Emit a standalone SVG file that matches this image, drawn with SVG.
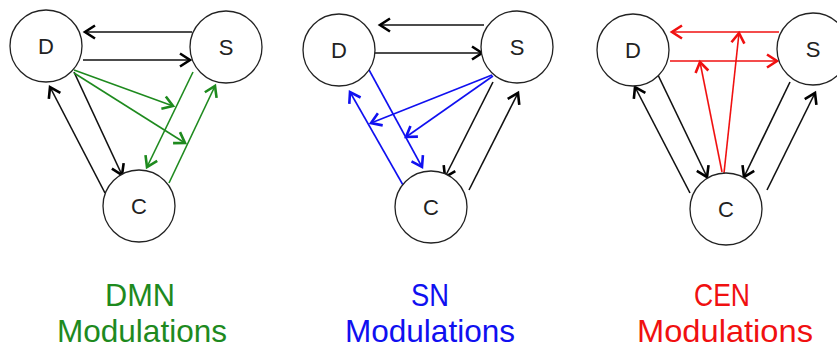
<svg xmlns="http://www.w3.org/2000/svg" width="837" height="349" viewBox="0 0 837 349">
<defs>
<marker id="ak" markerUnits="userSpaceOnUse" markerWidth="16" markerHeight="16" refX="0" refY="0" viewBox="-13 -8 16 16" orient="auto" overflow="visible"><path d="M-10,-6.5 L0,0 L-10,6.5" fill="none" stroke="#000" stroke-width="2.6"/></marker>
<marker id="ag" markerUnits="userSpaceOnUse" markerWidth="16" markerHeight="16" refX="0" refY="0" viewBox="-13 -8 16 16" orient="auto" overflow="visible"><path d="M-10,-6.5 L0,0 L-10,6.5" fill="none" stroke="#1e8a1e" stroke-width="2.6"/></marker>
<marker id="ab" markerUnits="userSpaceOnUse" markerWidth="16" markerHeight="16" refX="0" refY="0" viewBox="-13 -8 16 16" orient="auto" overflow="visible"><path d="M-10,-6.5 L0,0 L-10,6.5" fill="none" stroke="#1010f0" stroke-width="2.6"/></marker>
<marker id="ar" markerUnits="userSpaceOnUse" markerWidth="16" markerHeight="16" refX="0" refY="0" viewBox="-13 -8 16 16" orient="auto" overflow="visible"><path d="M-10,-6.5 L0,0 L-10,6.5" fill="none" stroke="#f01010" stroke-width="2.6"/></marker>
</defs>
<style>
.n circle{fill:#fff;stroke:#222;stroke-width:1.3}
.n text{font-family:"Liberation Sans",Arial,sans-serif;font-size:22px;fill:#222;text-anchor:middle}
.k{stroke:#111;stroke-width:1.6;fill:none;marker-end:url(#ak)}
.g{stroke:#1e8a1e;stroke-width:1.6;fill:none;marker-end:url(#ag)}
.b{stroke:#1010f0;stroke-width:1.6;fill:none;marker-end:url(#ab)}
.r{stroke:#f01010;stroke-width:1.6;fill:none;marker-end:url(#ar)}
.lbl{font-family:"Liberation Sans",Arial,sans-serif;font-size:32px;text-anchor:middle}
</style>
<rect width="837" height="349" fill="#fff"/>
<g id="connectors">
<line class="k" x1="192" y1="32" x2="85" y2="32"/>
<line class="k" x1="83" y1="60" x2="190" y2="60"/>
<line class="k" x1="105" y1="193" x2="50" y2="87"/>
<line class="k" x1="74" y1="72" x2="122" y2="175"/>
<line class="g" x1="74" y1="70" x2="173" y2="106"/>
<line class="g" x1="74" y1="73" x2="185" y2="143"/>
<line class="g" x1="193" y1="72" x2="147" y2="167"/>
<line class="g" x1="169" y1="183" x2="215" y2="86"/>
<line class="k" x1="484" y1="25" x2="380" y2="25"/>
<line class="k" x1="375" y1="53" x2="482" y2="53"/>
<line class="b" x1="368" y1="68" x2="422" y2="167"/>
<line class="b" x1="403" y1="185" x2="350" y2="92"/>
<line class="b" x1="492" y1="75" x2="371" y2="123"/>
<line class="b" x1="493" y1="76" x2="406" y2="137"/>
<line class="k" x1="493" y1="82" x2="445" y2="177"/>
<line class="k" x1="469" y1="190" x2="518" y2="93"/>
<line class="r" x1="779" y1="32" x2="672" y2="32"/>
<line class="r" x1="670" y1="61" x2="777" y2="61"/>
<line class="r" x1="724" y1="173" x2="739" y2="33"/>
<line class="r" x1="722" y1="172" x2="700" y2="62"/>
<line class="k" x1="658" y1="75" x2="707" y2="177"/>
<line class="k" x1="690" y1="193" x2="635" y2="87"/>
<line class="k" x1="790" y1="82" x2="744" y2="177"/>
<line class="k" x1="767" y1="190" x2="815" y2="93"/>
</g>
<g id="dmn-D" class="n"><circle cx="46" cy="46" r="36"/><text x="46" y="54">D</text></g>
<g id="dmn-S" class="n"><circle cx="226" cy="47" r="36"/><text x="226" y="55">S</text></g>
<g id="dmn-C" class="n"><circle cx="139" cy="206" r="36"/><text x="139" y="214">C</text></g>
<g id="sn-D" class="n"><circle cx="339" cy="50" r="36"/><text x="339" y="58">D</text></g>
<g id="sn-S" class="n"><circle cx="517" cy="47" r="36"/><text x="517" y="55">S</text></g>
<g id="sn-C" class="n"><circle cx="431" cy="207" r="36"/><text x="431" y="215">C</text></g>
<g id="cen-D" class="n"><circle cx="633" cy="50" r="36"/><text x="633" y="58">D</text></g>
<g id="cen-S" class="n"><circle cx="813" cy="49" r="36"/><text x="813" y="57">S</text></g>
<g id="cen-C" class="n"><circle cx="726" cy="209" r="36"/><text x="726" y="217">C</text></g>
<g id="label-dmn" fill="#1e8a1e"><text class="lbl" x="140" y="306" textLength="70" lengthAdjust="spacingAndGlyphs">DMN</text><text class="lbl" x="142" y="342" textLength="170" lengthAdjust="spacingAndGlyphs">Modulations</text></g>
<g id="label-sn" fill="#1010f0"><text class="lbl" x="430" y="306" textLength="38" lengthAdjust="spacingAndGlyphs">SN</text><text class="lbl" x="430" y="342" textLength="170" lengthAdjust="spacingAndGlyphs">Modulations</text></g>
<g id="label-cen" fill="#f01010"><text class="lbl" x="722" y="306" textLength="56" lengthAdjust="spacingAndGlyphs">CEN</text><text class="lbl" x="725" y="342" textLength="176" lengthAdjust="spacingAndGlyphs">Modulations</text></g>
</svg>
